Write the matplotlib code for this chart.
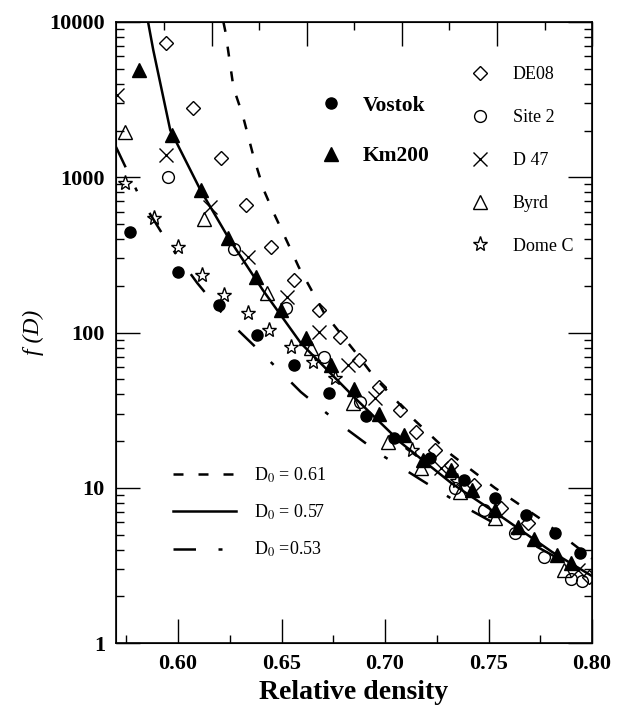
"""Densification rate f(D) against relative density for Antarctic sites."""

import matplotlib
matplotlib.use("Agg")
import matplotlib.pyplot as plt
from matplotlib.lines import Line2D
from matplotlib.ticker import FixedLocator, FuncFormatter, LogLocator, NullFormatter

plt.rcParams["font.family"] = ["Liberation Serif", "DejaVu Serif"]
plt.rcParams["mathtext.fontset"] = "stix"

# --- measured points (relative density, f(D)) ---
vostok_d = [0.577, 0.600, 0.620, 0.638, 0.656, 0.673, 0.691, 0.7045, 0.7215, 0.738, 0.753, 0.768, 0.782, 0.794]
vostok_f = [444, 245, 150, 96, 62, 41, 29, 21, 15.6, 11.2, 8.6, 6.7, 5.1, 3.8]

km200_d = [0.581, 0.597, 0.611, 0.624, 0.6375, 0.6496, 0.6617, 0.674, 0.685, 0.697, 0.709,
           0.7185, 0.732, 0.742, 0.753, 0.764, 0.772, 0.783, 0.790]
km200_f = [4900, 1870, 828, 406, 227, 140, 92, 62, 43, 30, 22, 15, 13, 9.7, 7.2, 5.6, 4.7, 3.7, 3.3]

de08_d = [0.594, 0.607, 0.6205, 0.633, 0.645, 0.656, 0.668, 0.678, 0.6875, 0.697, 0.707,
          0.715, 0.724, 0.732, 0.743, 0.756, 0.769, 0.7986]
de08_f = [7300, 2790, 1330, 663, 356, 218, 140, 93.5, 66.5, 44.6, 31.7, 22.9, 17.5, 14.0,
          10.4, 7.4, 5.9, 2.66]

site2_d = [0.595, 0.627, 0.652, 0.6705, 0.688, 0.7336, 0.748, 0.7627, 0.777, 0.790, 0.795]
site2_f = [1000, 345, 144, 69.5, 35.7, 9.96, 7.2, 5.1, 3.6, 2.6, 2.5]

d47_d = [0.5705, 0.594, 0.6156, 0.634, 0.6525, 0.668, 0.682, 0.695, 0.727, 0.793]
d47_f = [3390, 1390, 643, 306, 169, 101, 62, 38, 13.4, 2.95]

byrd_d = [0.5744, 0.6127, 0.643, 0.664, 0.6846, 0.7016, 0.7176, 0.736, 0.753, 0.7865]
byrd_f = [1956, 538, 179, 79, 35, 19.7, 13.4, 9.4, 6.4, 2.95]

domec_d = [0.5744, 0.5884, 0.600, 0.6117, 0.6224, 0.6336, 0.6438, 0.6545, 0.665, 0.676, 0.713, 0.735]
domec_f = [918, 546, 356, 234, 174, 134, 104, 81, 65, 51, 17.5, 11]

# --- model curves ---
d061_d = [0.6219, 0.6229, 0.6268, 0.6312, 0.6365, 0.6414, 0.6462, 0.6530, 0.6583, 0.6647,
          0.6705, 0.6860, 0.6948, 0.7142, 0.7321, 0.7530, 0.7744, 0.80]
d061_f = [10000, 8620, 3758, 2518, 1350, 828, 589, 377, 264, 185, 134, 73.8, 51.7, 27.3,
          16.3, 10.0, 6.4, 3.5]

d057_d = [0.5855, 0.5880, 0.5962, 0.6108, 0.6244, 0.6409, 0.6593, 0.6850, 0.7079, 0.7321,
          0.7564, 0.7807, 0.80]
d057_f = [10000, 6604, 2015, 828, 406, 188, 85.5, 38.4, 19.4, 10.7, 6.49, 3.86, 2.7]

d053_d = [0.57, 0.5817, 0.5948, 0.6093, 0.6244, 0.6414, 0.6593, 0.6787, 0.6982, 0.7190,
          0.7394, 0.80]
d053_f = [1567, 735, 383, 208, 118.6, 71.6, 41.4, 25.4, 16.3, 10.9, 7.41, 2.66]

x_major = [0.60, 0.65, 0.70, 0.75, 0.80]
x_minor = [0.575, 0.625, 0.675, 0.725, 0.775]

fig = plt.figure(figsize=(6.26, 7.05), dpi=100)
ax = fig.add_axes([0.1853, 0.0879, 0.7604, 0.8809])

lw = 1.8
dashed = (0, (4, 6))
dashdot = (0, (9, 9, 1.6, 10))
ax.plot(d061_d, d061_f, color="black", lw=lw, linestyle=dashed, zorder=2)
ax.plot(d057_d, d057_f, color="black", lw=lw, linestyle="-", zorder=2)
ax.plot(d053_d, d053_f, color="black", lw=lw, linestyle=dashdot, zorder=2)

open_kw = dict(linestyle="none", markerfacecolor="none", markeredgecolor="black",
               markeredgewidth=1.0, zorder=3)
filled_kw = dict(linestyle="none", color="black", zorder=4)

ax.plot(de08_d, de08_f, marker="D", markersize=7, **open_kw)
ax.plot(site2_d, site2_f, marker="o", markersize=8.5, **open_kw)
ax.plot(d47_d, d47_f, marker="x", markersize=10, **open_kw)
ax.plot(byrd_d, byrd_f, marker="^", markersize=10, **open_kw)
ax.plot(domec_d, domec_f, marker="*", markersize=11, **open_kw)
ax.plot(vostok_d, vostok_f, marker="o", markersize=8, **filled_kw)
ax.plot(km200_d, km200_f, marker="^", markersize=9.5, **filled_kw)

ax.set_yscale("log")
ax.set_xlim(0.57, 0.80)
ax.set_ylim(1, 10000)

ax.xaxis.set_major_locator(FixedLocator(x_major))
ax.xaxis.set_minor_locator(FixedLocator(x_minor))
ax.xaxis.set_major_formatter(FuncFormatter(lambda x, _: f"{x:.2f}"))
ax.yaxis.set_major_locator(LogLocator(base=10))
ax.yaxis.set_minor_locator(LogLocator(base=10, subs=range(2, 10)))
ax.yaxis.set_major_formatter(FuncFormatter(lambda y, _: f"{y:g}"))
ax.yaxis.set_minor_formatter(NullFormatter())

ax.tick_params(which="both", direction="in", right=True, top=False, width=1.0)
ax.tick_params(which="major", length=17, labelsize=16, pad=8)
ax.tick_params(which="minor", length=6)
for lab in ax.get_xticklabels() + ax.get_yticklabels():
    lab.set_fontweight("bold")
for sp in ax.spines.values():
    sp.set_linewidth(1.2)

# the top axis of the original carries its own, slightly shifted tick marks
top = ax.twiny()
top.set_xlim(0.5495, 0.80)
top.xaxis.set_major_locator(FixedLocator(x_major))
top.xaxis.set_minor_locator(FixedLocator(x_minor))
top.tick_params(which="both", direction="in", labeltop=False, width=1.0)
top.tick_params(which="major", length=17)
top.tick_params(which="minor", length=6)

ax.set_xlabel("Relative density", fontsize=20, fontweight="bold", labelpad=4)
ax.set_ylabel("f (D)", fontsize=17, fontstyle="italic", labelpad=4)

# legends
site_handles = [
    Line2D([], [], marker="D", markersize=7, **open_kw),
    Line2D([], [], marker="o", markersize=8.5, **open_kw),
    Line2D([], [], marker="x", markersize=10, **open_kw),
    Line2D([], [], marker="^", markersize=10, **open_kw),
    Line2D([], [], marker="*", markersize=11, **open_kw),
]
leg1 = ax.legend(site_handles, ["DE08", "Site 2", "D 47", "Byrd", "Dome C"],
                 loc="upper left", bbox_to_anchor=(0.727, 0.94), frameon=False,
                 fontsize=13, labelspacing=1.43, handletextpad=1.2, handlelength=1.2,
                 borderaxespad=0)
ax.add_artist(leg1)

bold_handles = [
    Line2D([], [], marker="o", markersize=8, **filled_kw),
    Line2D([], [], marker="^", markersize=9.5, **filled_kw),
]
leg2 = ax.legend(bold_handles, ["Vostok", "Km200"], loc="upper left",
                 bbox_to_anchor=(0.407, 0.895), frameon=False,
                 prop=dict(size=15.5, weight="bold"), labelspacing=1.4,
                 handletextpad=0.85, handlelength=1.2, borderaxespad=0)
ax.add_artist(leg2)

curve_handles = [
    Line2D([], [], color="black", lw=lw, linestyle=dashed),
    Line2D([], [], color="black", lw=lw, linestyle="-"),
    Line2D([], [], color="black", lw=lw, linestyle=dashdot),
]
ax.legend(curve_handles, ["D$_0$ = 0.61", "D$_0$ = 0.57", "D$_0$ =0.53"],
          loc="upper left", bbox_to_anchor=(0.105, 0.298), frameon=False,
          fontsize=13, labelspacing=1.0, handletextpad=0.95, handlelength=3.5,
          borderaxespad=0)

fig.savefig("out.png", dpi=100)
